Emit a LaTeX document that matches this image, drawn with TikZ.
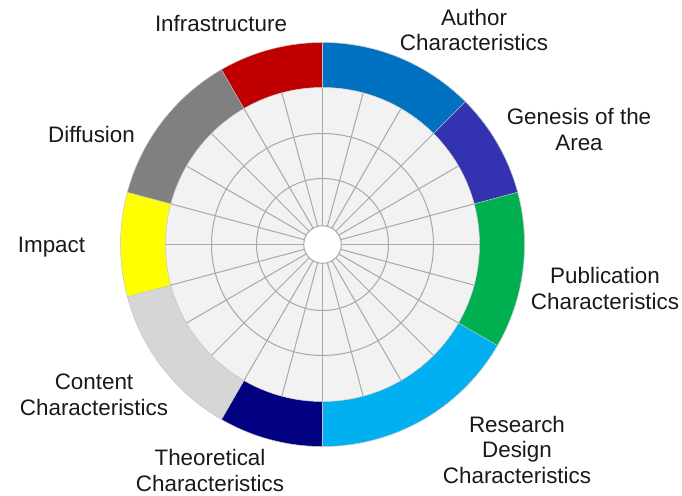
\documentclass[tikz,border=0pt]{standalone}
\usepackage{fontspec}
\setmainfont{Liberation Sans}
\definecolor{authorblue}{HTML}{0070C0}
\definecolor{genesispurple}{HTML}{3333B2}
\definecolor{pubgreen}{HTML}{00B050}
\definecolor{researchblue}{HTML}{00B0F0}
\definecolor{theonavy}{HTML}{000080}
\definecolor{contentgray}{HTML}{D6D6D6}
\definecolor{impactyellow}{HTML}{FFFF00}
\definecolor{diffgray}{HTML}{808080}
\definecolor{infrared}{HTML}{C00000}
\definecolor{diskfill}{HTML}{F2F2F2}
\definecolor{gridgray}{HTML}{A8A8A8}
\begin{document}
\begin{tikzpicture}[x=1pt,y=1pt,
  lbl/.style={font=\fontsize{22.4}{25.5}\selectfont, align=center, inner sep=0pt, text=black!90},
  gridline/.style={draw=gridgray, line width=1pt},
  sepline/.style={draw=gridgray!70, line width=0.5pt}]
\useasboundingbox (0,0) rectangle (682,495);
\begin{scope}[shift={(322.5,250.5)}]
  % coloured outer ring, one sector per category
  \foreach \a/\b/\c in {90/45/authorblue, 45/15/genesispurple, 15/-30/pubgreen,
                        -30/-90/researchblue, 270/240/theonavy, 240/195/contentgray,
                        195/165/impactyellow, 165/120/diffgray, 120/90/infrared}{
    \fill[\c] (\a:202) arc[start angle=\a, end angle=\b, radius=202]
      -- (\b:157) arc[start angle=\b, end angle=\a, radius=157] -- cycle;
  }
  % thin borders between sectors and round the ring
  \foreach \t in {90,45,15,-30,-90,240,195,165,120}
    \draw[sepline] (\t:157) -- (\t:202);
  \draw[sepline] (0,0) circle[radius=202];
  % inner disk with its polar grid
  \fill[diskfill] (0,0) circle[radius=157];
  \foreach \r in {66,111}
    \draw[gridline] (0,0) circle[radius=\r];
  \foreach \t in {0,15,...,345}
    \draw[gridline] (\t:18.8) -- (\t:157);
  \draw[sepline] (0,0) circle[radius=157];
  \fill[white] (0,0) circle[radius=18.8];
  \draw[gridline] (0,0) circle[radius=18.8];
\end{scope}
% category labels
\node[lbl] (infra) at (221,471) {Infrastructure};
\node[lbl] (author) at (474,465) {Author\\Characteristics};
\node[lbl] (genesis) at (579,365.5) {Genesis of the\\Area};
\node[lbl] (publication) at (605,206.5) {Publication\\Characteristics};
\node[lbl] (research) at (517,45.5) {Research\\Design\\Characteristics};
\node[lbl] (theoretical) at (210,24.5) {Theoretical\\Characteristics};
\node[lbl] (content) at (94,100) {Content\\Characteristics};
\node[lbl] (impact) at (51.5,248) {Impact};
\node[lbl] (diffusion) at (91.5,361) {Diffusion};
\end{tikzpicture}
\end{document}
